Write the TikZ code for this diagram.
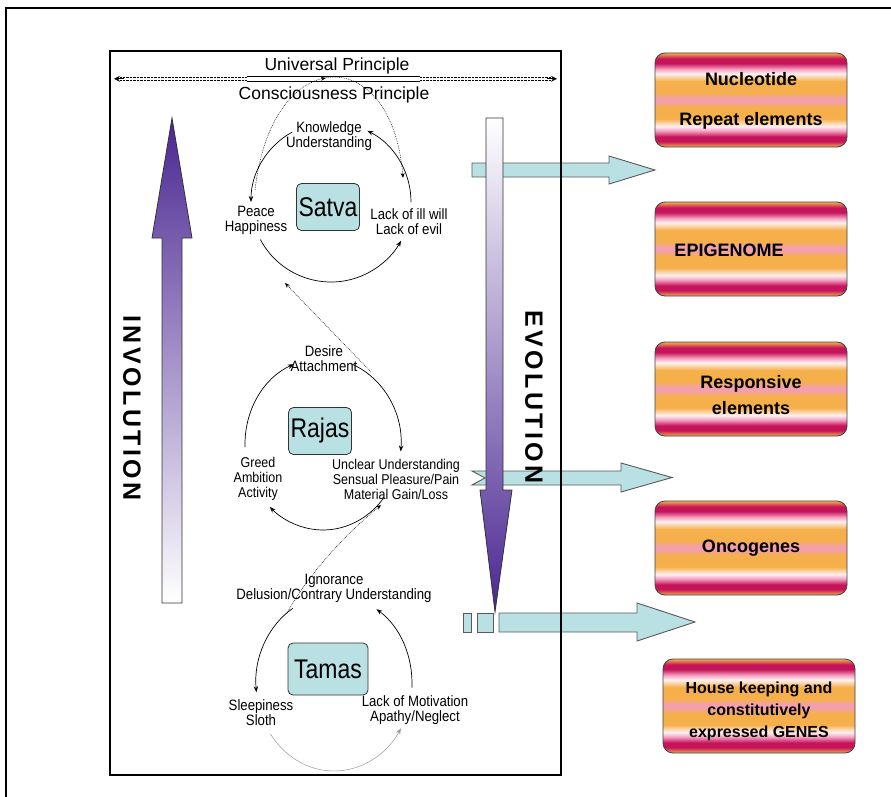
\documentclass[tikz,border=0pt]{standalone}
\usepackage{fontspec}
\setmainfont{Liberation Sans}
\newfontfamily\lblfont[FakeStretch=0.88]{Liberation Sans}
\newfontfamily\gunafont[FakeStretch=0.85]{Liberation Sans}
\newfontfamily\wayfont[LetterSpace=14]{Liberation Sans}
\usetikzlibrary{arrows.meta,decorations.markings,calc}

\definecolor{tealfill}{HTML}{B9E0E3}
\definecolor{gunaviolet}{RGB}{74,38,146}
\definecolor{bandorange}{HTML}{F6B04B}
\definecolor{bandcrimson}{HTML}{C6145A}
\definecolor{bandpink}{HTML}{F39CBE}
\definecolor{bandwhite}{HTML}{FFF1F2}

% horizontal colour bands of the gene boxes (inner 25bp--75bp covers the box)
\pgfdeclareverticalshading{genebands}{100bp}{%
  color(0bp)=(bandorange); color(25bp)=(bandorange);
  color(28bp)=(bandcrimson); color(30.5bp)=(bandcrimson);
  color(33.5bp)=(bandpink); color(36bp)=(bandwhite);
  color(40bp)=(bandorange); color(46bp)=(bandorange);
  color(50bp)=(bandpink);
  color(54bp)=(bandorange); color(60bp)=(bandorange);
  color(64bp)=(bandwhite); color(66.5bp)=(bandpink);
  color(69.5bp)=(bandcrimson); color(72bp)=(bandcrimson);
  color(75bp)=(bandorange); color(100bp)=(bandorange)}

\begin{document}
\begin{tikzpicture}[x=1pt,y=-1pt,
  lbl/.style={font=\lblfont\fontsize{15}{15}\selectfont, align=center, inner sep=0pt},
  smalllbl/.style={font=\lblfont\fontsize{14.2}{15}\selectfont, align=center, inner sep=0pt},
  gunabox/.style={draw=black!80, fill=tealfill, rounded corners=5pt, line width=0.8pt,
    minimum width=63pt, minimum height=47pt, inner sep=0pt,
    font=\gunafont\fontsize{27}{30}\selectfont},
  cyc/.style={line width=0.7pt, -{Stealth[length=6pt,width=4.5pt]}},
  dotlink/.style={line width=0.5pt, dash pattern=on 0.8pt off 1pt,
    -{Stealth[length=5pt,width=4pt]}},
  genebox/.style={draw=black!75, line width=0.8pt, rounded corners=10pt,
    shading=genebands, minimum width=192pt, minimum height=94pt, inner sep=0pt},
  genetext/.style={font=\bfseries\fontsize{18}{20}\selectfont, align=center, inner sep=0pt},
  waytext/.style={font=\wayfont\bfseries\fontsize{25}{27}\selectfont, inner sep=0pt},
  tealarrow/.style={fill=tealfill, draw=black!65, line width=0.9pt},
  gradarrow/.style={draw=black!80, line width=0.8pt}
]
\useasboundingbox (0,0) rectangle (891,797);
\clip (0,0) rectangle (891,797);

% outer page frame
\draw[line width=2.5pt] (6,830) -- (6,8) -- (900,8);

% teal output arrows
\draw[tealarrow] (472,163) -- (609,163) -- (609,156) -- (655,170) -- (609,184)
  -- (609,177) -- (472,177) -- cycle;
\draw[tealarrow] (472,471) -- (621,471) -- (621,463) -- (672,477.5) -- (621,492)
  -- (621,485) -- (472,485) -- (485,478) -- cycle;
\draw[tealarrow] (463,613) rectangle (471,632);
\draw[tealarrow] (477,613) rectangle (493,632);
\draw[tealarrow] (499,613) -- (637,613) -- (637,603) -- (695,622) -- (637,641)
  -- (637,632) -- (499,632) -- cycle;

% involution / evolution arrows
\path[gradarrow, top color=gunaviolet, bottom color=white]
  (162,603) -- (162,238) -- (152,238) -- (172,118) -- (192,238) -- (182,238)
  -- (182,603) -- cycle;
\path[gradarrow, top color=white, bottom color=gunaviolet]
  (486,118) -- (503,118) -- (503,490) -- (512,490) -- (495,612) -- (480,490)
  -- (486,490) -- cycle;
\node[waytext, rotate=-90] (inv) at (132,408) {INVOLUTION};
\node[waytext, rotate=-90] (evo) at (534,397) {EVOLUTION};

% main panel
\draw[line width=2.8pt] (110,51) rectangle (561,775);

% principles
\node[font=\fontsize{17.5}{20}\selectfont, inner sep=0pt] (univ) at (337,66) {Universal Principle};
\node[font=\fontsize{17.5}{20}\selectfont, inner sep=0pt] (cons) at (334,95) {Consciousness Principle};
\draw[line width=0.5pt, dash pattern=on 0.7pt off 0.7pt]
  (120,77.5) -- (247,77.5) (420,77.5) -- (551,77.5)
  (120,80) -- (247,80) (420,80) -- (551,80);
\draw[line width=0.7pt] (247,76) -- (420,76) (247,81.5) -- (420,81.5);
\coordinate (pl) at (114,78.8);
\coordinate (pr) at (557,78.8);
\draw[line width=0.8pt, -{Stealth[length=6pt,width=6pt]}] (124,78.8) -- (pl);
\draw[line width=0.8pt, -{Stealth[length=6pt,width=6pt]}] (547,78.8) -- (pr);

% ---------------- Satva ----------------
\node[gunabox] (satva) at (328,207) {Satva};
\node[lbl] (know) at (329,136) {Knowledge\\Understanding};
\node[lbl] (peace) at (256,220) {Peace\\Happiness};
\node[lbl] (lack) at (409,222) {Lack of ill will\\Lack of evil};
\coordinate (sc) at (331,202);
\draw[cyc] ($(sc)+({80*cos(119)},{-80*sin(119)})$) arc[start angle=119, end angle=180, radius=80pt];
\draw[cyc] ($(sc)+({80*cos(-152)},{-80*sin(-152)})$) arc[start angle=-152, end angle=-29, radius=80pt];
\draw[cyc] ($(sc)+(80,0)$) arc[start angle=0, end angle=63, radius=80pt];
\draw[dotlink, postaction={decorate}, decoration={markings,
    mark=at position 0.5 with {\arrow{Stealth[length=5pt,width=4pt]}}}]
  (255,190) .. controls (272,42) and (392,42) .. (403,178);

% ---------------- Rajas ----------------
\node[gunabox] (rajas) at (320,431) {Rajas};
\node[lbl] (desire) at (324,359) {Desire\\Attachment};
\node[smalllbl] (greed) at (258,479) {Greed\\Ambition\\Activity};
\node[smalllbl] (unclear) at (396,479) {Unclear Understanding\\Sensual Pleasure/Pain\\Material Gain/Loss};
\coordinate (rc) at (323,444);
\draw[cyc] ($(rc)+({78*cos(-178)},{-86*sin(-178)})$)
  arc[start angle=-178, end angle=-248, x radius=78pt, y radius=86pt];
\draw[cyc] ($(rc)+({78*cos(68)},{-86*sin(68)})$)
  arc[start angle=68, end angle=-5, x radius=78pt, y radius=86pt];
\draw[cyc] ($(rc)+({78*cos(-39)},{-86*sin(-39)})$)
  arc[start angle=-39, end angle=-133, x radius=78pt, y radius=86pt];
\coordinate (sr1) at (371,372);
\coordinate (sr2) at (285,283);
\draw[dotlink] (sr1) -- (sr2);

% ---------------- Tamas ----------------
\node[gunabox, minimum width=80pt, minimum height=52pt] (tamas) at (328,669) {Tamas};
\node[lbl] (ign) at (334,588) {Ignorance\\Delusion/Contrary Understanding};
\node[lbl] (sleep) at (261,713) {Sleepiness\\Sloth};
\node[lbl] (lackm) at (415,710) {Lack of Motivation\\Apathy/Neglect};
\coordinate (tc) at (334,683);
\draw[cyc] ($(tc)+({78*cos(122)},{-88*sin(122)})$)
  arc[start angle=122, end angle=186, x radius=78pt, y radius=88pt];
\draw[cyc, draw=black!40, line width=0.5pt] ($(tc)+({78*cos(-144.5)},{-88*sin(-144.5)})$)
  arc[start angle=-144.5, end angle=-31, x radius=78pt, y radius=88pt];
\draw[cyc] ($(tc)+({78*cos(-3)},{-88*sin(-3)})$)
  arc[start angle=-3, end angle=57, x radius=78pt, y radius=88pt];
\coordinate (tr1) at (287,613);
\coordinate (tr2) at (381,505);
\draw[dotlink] (tr1) .. controls (310,572) and (345,535) .. (tr2);

% ---------------- gene boxes ----------------
\node[genebox] (b1) at (751,100) {};
\node[genetext] (nuc) at (751,79) {Nucleotide};
\node[genetext] (rep) at (751,121) {Repeat elements};
\node[genebox] (b2) at (751,249) {};
\node[genetext] (epi) at (729,250) {EPIGENOME};
\node[genebox] (b3) at (751,389) {};
\node[genetext, font=\bfseries\fontsize{18}{26}\selectfont] (resp) at (751,395) {Responsive\\elements};
\node[genebox] (b4) at (751,548) {};
\node[genetext] (onc) at (751,548) {Oncogenes};
\node[genebox] (b5) at (759,706) {};
\node[genetext, font=\bfseries\fontsize{16}{22}\selectfont] (house) at (759,711)
  {House keeping and\\constitutively\\expressed GENES};
\end{tikzpicture}
\end{document}
